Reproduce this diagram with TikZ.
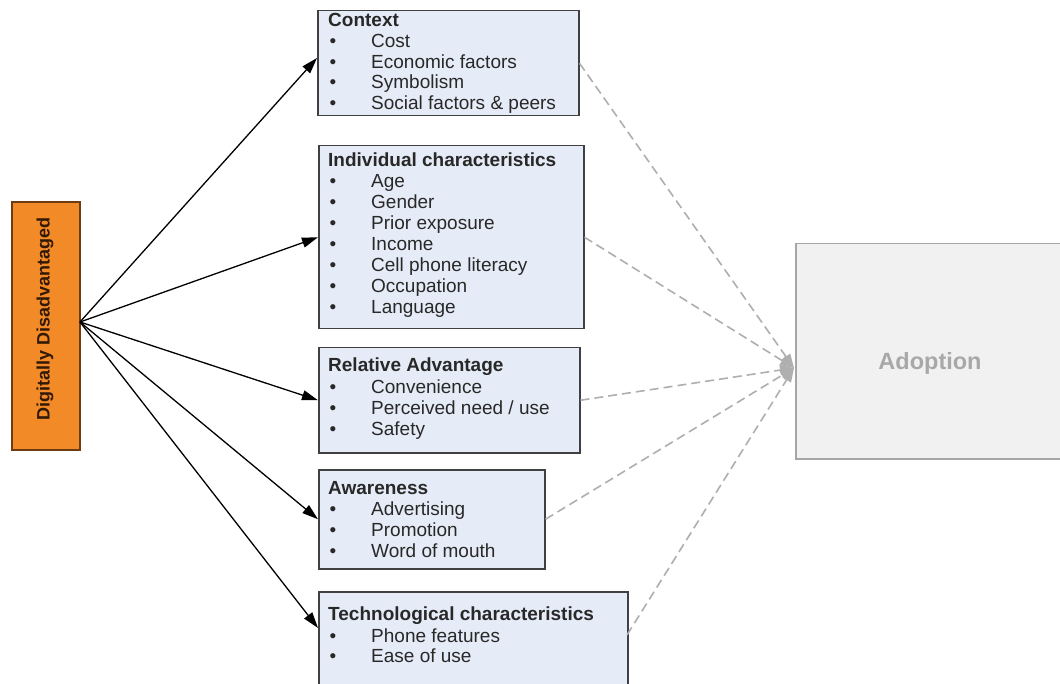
\documentclass[tikz,border=0pt]{standalone}
\usepackage{fontspec}
\setmainfont{Liberation Sans}
\usetikzlibrary{arrows.meta}
\definecolor{boxfill}{RGB}{230,236,247}
\definecolor{boxline}{RGB}{64,64,64}
\definecolor{orangefill}{RGB}{242,138,40}
\definecolor{orangeline}{RGB}{110,60,20}
\definecolor{orangetext}{RGB}{50,25,5}
\definecolor{adfill}{RGB}{241,241,241}
\definecolor{adline}{RGB}{166,166,166}
\definecolor{adtext}{RGB}{168,168,168}
\definecolor{dashcol}{RGB}{175,175,175}
\definecolor{txt}{RGB}{40,40,40}
\newcommand\bul{\makebox[43pt][l]{\hspace{1.5pt}\textbullet}}
\begin{document}
\begin{tikzpicture}[x=1pt,y=-1pt,
  box/.style={draw=boxline,fill=boxfill,line width=1.5pt,rectangle,anchor=north west,inner sep=0pt},
  ttl/.style={anchor=base west,inner sep=0pt,font=\fontsize{19}{21}\selectfont\bfseries,text=txt},
  itm/.style={anchor=base west,inner sep=0pt,font=\fontsize{19}{21}\selectfont,text=txt},
  arr/.style={draw=black,line width=1.3pt,-{Stealth[length=16pt,width=10pt,inset=0pt]}},
  dsh/.style={draw=dashcol,line width=1.6pt,dash pattern=on 9pt off 5pt,-{Stealth[length=14pt,width=10pt,inset=0pt]}}]
\useasboundingbox (0,0) rectangle (1060,684);
\clip (0,0) rectangle (1060,684);
\fill[white] (0,0) rectangle (1060,684);

% left source box
\node[draw=orangeline,fill=orangefill,line width=1.2pt,rectangle,inner sep=0pt,
      minimum width=68pt,minimum height=248pt] (dd) at (46,326) {};
\node[rotate=90,inner sep=0pt,font=\fontsize{18}{20}\selectfont\bfseries,text=orangetext] (ddt) at (45,319) {Digitally Disadvantaged};
\coordinate (src) at (80,322);

% adoption box
\node[draw=adline,fill=adfill,line width=1.5pt,rectangle,anchor=north west,inner sep=0pt,
      minimum width=275pt,minimum height=215pt] (adopt) at (795,243) {};
\node[inner sep=0pt,font=\fontsize{23.5}{26}\selectfont\bfseries,text=adtext] (adoptt) at (930,363) {Adoption};
\coordinate (hub) at (794,368);

% factor boxes
\node[box,minimum width=261pt,minimum height=105pt] (ctx) at (317,10) {};
\node[box,minimum width=265pt,minimum height=183pt] (ind) at (318,145) {};
\node[box,minimum width=261pt,minimum height=105pt] (rel) at (318,347) {};
\node[box,minimum width=226pt,minimum height=99pt] (awa) at (318,469) {};
\node[box,minimum width=309pt,minimum height=110pt] (tec) at (318,591) {};

% texts
\node[ttl] (ctx-t) at (328,27) {Context};
\foreach \t [count=\i] in {Cost,Economic factors,Symbolism,Social factors \& peers}
  \node[itm] (ctx-\i) at (328,27+20.6*\i) {\bul\t};
\node[ttl] (ind-t) at (328,167) {Individual characteristics};
\foreach \t [count=\i] in {Age,Gender,Prior exposure,Income,Cell phone literacy,Occupation,Language}
  \node[itm] (ind-\i) at (328,167+20.9*\i) {\bul\t};
\node[ttl] (rel-t) at (328,372) {Relative Advantage};
\foreach \t [count=\i] in {Convenience,Perceived need / use,Safety}
  \node[itm] (rel-\i) at (328,372+21*\i) {\bul\t};
\node[ttl] (awa-t) at (328,494) {Awareness};
\foreach \t [count=\i] in {Advertising,Promotion,Word of mouth}
  \node[itm] (awa-\i) at (328,494+21*\i) {\bul\t};
\node[ttl] (tec-t) at (328,620) {Technological characteristics};
\node[itm] (tec-1) at (328,642) {\bul Phone features};
\node[itm] (tec-2) at (328,662) {\bul Ease of use};

% connection points
\coordinate (ctx-in) at (317,58);
\coordinate (tec-in) at (318,628);
\coordinate (tec-out) at (627,635);

% dashed connectors to adoption
\draw[dsh] (ctx.east) -- (hub);
\draw[dsh] (ind.east) -- (hub);
\draw[dsh] (rel.east) -- (hub);
\draw[dsh] (awa.east) -- (hub);
\draw[dsh] (tec-out) -- (hub);

% solid arrows from source
\draw[arr] (src) -- (ctx-in);
\draw[arr] (src) -- (ind.west);
\draw[arr] (src) -- (rel.west);
\draw[arr] (src) -- (awa.west);
\draw[arr] (src) -- (tec-in);
\end{tikzpicture}
\end{document}
